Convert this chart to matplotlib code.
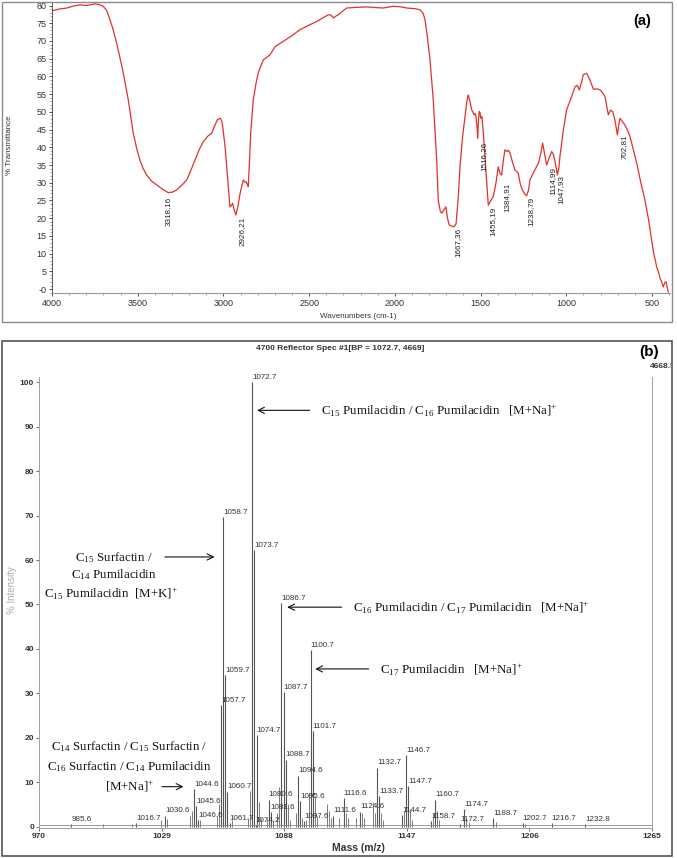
import matplotlib
matplotlib.use("Agg")
import matplotlib.pyplot as plt
from matplotlib.patches import Rectangle
from matplotlib.ticker import MultipleLocator
from matplotlib.transforms import Bbox, TransformedBbox

plt.rcParams['font.family'] = ['Liberation Sans', 'DejaVu Sans']
plt.rcParams['mathtext.fontset'] = 'stix'

# ---- (a) FTIR spectrum ----
wavenumber = [4000, 3960, 3914, 3880, 3837, 3800, 3770, 3749, 3720, 3701, 3680, 3662, 3645,
              3623, 3600, 3584, 3555, 3526, 3505, 3487, 3468, 3448, 3420, 3389, 3355, 3322,
              3295, 3273, 3245, 3214, 3190, 3166, 3140, 3117, 3090, 3068, 3049, 3035, 3020,
              3010, 3004, 2990, 2981, 2970, 2962, 2954, 2946, 2938, 2927, 2915, 2903, 2884,
              2876, 2868, 2860, 2855, 2848, 2841, 2826, 2810, 2797, 2787, 2767, 2728, 2699,
              2651, 2600, 2553, 2500, 2456, 2420, 2388, 2372, 2359, 2345, 2330, 2300, 2281,
              2220, 2164, 2067, 2009, 1960, 1931, 1880, 1853, 1835, 1824, 1810, 1795, 1776,
              1766, 1756, 1747, 1735, 1727, 1715, 1702, 1693, 1683, 1670, 1655, 1643, 1630,
              1620, 1605, 1591, 1580, 1572, 1562, 1552, 1538, 1530, 1527, 1521, 1517, 1512,
              1508, 1503, 1499, 1492, 1484, 1468, 1455, 1440, 1426, 1410, 1397, 1385, 1377,
              1368, 1358, 1345, 1337, 1328, 1315, 1299, 1280, 1270, 1260, 1245, 1231, 1220,
              1212, 1190, 1163, 1150, 1138, 1126, 1114, 1100, 1085, 1075, 1066, 1058, 1052,
              1044, 1037, 1017, 998, 975, 949, 936, 924, 910, 901, 881, 862, 842, 820, 803,
              790, 774, 762, 755, 742, 729, 716, 702, 695, 687, 672, 658, 640, 628, 610, 589,
              565, 541, 520, 502, 490, 480, 473, 460, 453, 445, 434, 426, 418, 410, 405]
transmittance = [78.5, 79.0, 79.3, 79.8, 80.2, 80.0, 80.3, 80.5, 80.2, 79.8, 78.5, 76.0, 73.5,
                 69.4, 64.5, 60.9, 53.4, 44.0, 39.5, 36.4, 34.0, 32.2, 30.5, 29.4, 28.2, 27.2,
                 27.4, 28.0, 29.2, 30.8, 33.5, 36.4, 39.5, 41.6, 43.2, 44.0, 46.3, 47.8, 48.2,
                 47.5, 45.8, 40.0, 34.5, 28.0, 23.2, 23.6, 24.2, 22.5, 20.9, 23.5, 27.0, 30.8,
                 30.2, 30.3, 29.5, 28.9, 36.0, 44.0, 53.4, 58.0, 60.9, 62.3, 64.7, 66.1, 68.4,
                 69.9, 71.5, 73.2, 74.5, 75.5, 76.5, 77.4, 77.3, 76.5, 77.0, 77.4, 78.6, 79.3,
                 79.5, 79.6, 79.3, 79.8, 79.6, 79.3, 79.1, 78.8, 77.8, 76.0, 71.0, 64.7, 53.4,
                 45.0, 36.4, 25.1, 22.0, 21.4, 22.3, 23.2, 20.0, 18.1, 17.8, 17.6, 18.4, 26.0,
                 34.5, 43.0, 48.7, 53.0, 54.8, 53.0, 50.6, 49.2, 49.5, 48.7, 46.0, 42.6, 48.0,
                 50.1, 49.8, 48.2, 48.7, 44.0, 32.7, 23.7, 25.0, 26.1, 30.0, 34.5, 32.5, 32.2,
                 36.0, 39.3, 38.8, 39.2, 38.3, 36.0, 33.6, 32.7, 30.0, 28.4, 27.0, 26.3, 28.0,
                 30.8, 33.0, 35.5, 38.0, 41.2, 38.0, 35.0, 37.0, 38.8, 38.0, 36.0, 34.0, 32.2,
                 34.0, 37.4, 44.9, 50.6, 53.5, 57.1, 57.5, 56.2, 58.5, 60.5, 60.9, 59.0, 56.4,
                 56.5, 56.2, 55.5, 54.3, 51.0, 49.2, 50.5, 50.1, 47.7, 43.5, 46.0, 48.2, 47.2,
                 46.3, 44.5, 43.0, 39.5, 35.5, 30.0, 25.1, 19.5, 13.8, 10.0, 8.0, 6.3, 4.5,
                 3.0, 2.2, 0.6, 1.8, 2.1, 0.2, -0.8]

ir_labels = ["3318,16", "2926,21", "1667,36", "1516,26", "1455,19",
             "1384,91", "1238,79", "1114,99", "1047,93", "702,81"]
ir_label_wn = [3322, 2893, 1630, 1480, 1426, 1348, 1208, 1076, 1031, 662]
ir_label_t = [26.0, 20.3, 17.2, 41.5, 23.2, 30.0, 26.0, 34.5, 32.2, 43.5]

# ---- (b) MALDI-TOF spectrum ----
peak_mass = [985.6, 1016.7, 1030.6, 1044.6, 1045.6, 1046.6, 1057.7, 1058.7, 1059.7, 1060.7,
             1061.7, 1072.7, 1073.7, 1074.2, 1074.7, 1080.6, 1081.6, 1086.7, 1087.7, 1088.7,
             1094.6, 1095.6, 1097.6, 1100.7, 1101.7, 1111.6, 1116.6, 1124.6, 1132.7, 1133.7,
             1144.7, 1146.7, 1147.7, 1158.7, 1160.7, 1172.7, 1174.7, 1188.7, 1202.7, 1216.7,
             1232.8]
peak_intensity = [0.6, 0.9, 2.5, 8.5, 4.6, 1.4, 27.4, 69.7, 34.2, 7.9,
                  0.9, 100.0, 62.2, 0.4, 20.7, 6.1, 3.2, 50.3, 30.3, 15.1,
                  11.5, 5.7, 1.2, 39.8, 21.6, 2.5, 6.5, 3.4, 13.3, 6.8,
                  2.7, 16.2, 9.1, 1.2, 6.1, 0.6, 4.0, 2.0, 0.8, 0.8,
                  0.6]
minor_mass = [1000.6, 1014.7, 1028.6, 1031.6, 1042.6, 1043.6, 1047.6, 1055.7, 1056.7, 1062.7,
              1070.7, 1071.7, 1075.7, 1076.7, 1079.6, 1082.6, 1084.7, 1085.7, 1089.7, 1090.7,
              1093.6, 1096.6, 1098.7, 1099.7, 1102.7, 1103.7, 1108.6, 1109.6, 1110.6, 1114.6,
              1117.6, 1118.6, 1122.6, 1125.6, 1126.6, 1130.7, 1131.7, 1134.7, 1135.7, 1145.7,
              1148.7, 1149.7, 1159.7, 1161.7, 1162.7, 1175.7, 1176.7, 1189.7, 1203.7]
minor_intensity = [0.5, 0.7, 1.5, 1.8, 2.5, 3.5, 1.5, 2.5, 5.0, 1.5,
                   2.0, 8.0, 5.5, 2.0, 2.0, 1.5, 3.0, 9.0, 5.0, 1.5,
                   3.0, 2.0, 1.5, 7.5, 7.0, 2.5, 5.0, 3.5, 2.0, 2.0,
                   3.0, 2.0, 2.0, 3.0, 2.0, 5.5, 3.0, 3.0, 1.5, 3.5,
                   4.0, 1.5, 3.0, 3.5, 1.5, 2.0, 1.0, 1.0, 0.6]
baseline_level = 0.3
max_counts = "4668.5"

W, H = 677, 858
fig = plt.figure(figsize=(W / 100, H / 100), dpi=100)


def fx(px):
    return px / W


def fy(py):
    return 1 - py / H


# panel frames
fig.patches.append(Rectangle((fx(2), fy(322)), fx(670), 320 / H, transform=fig.transFigure,
                             fill=False, ec="#8a8a8a", lw=1.0))
fig.patches.append(Rectangle((fx(2), fy(856)), fx(670), 515 / H, transform=fig.transFigure,
                             fill=False, ec="#555555", lw=1.2))

# ---------------- panel (a) ----------------
ax1 = fig.add_axes([fx(52), fy(293), fx(618), 291 / H])
ax1.plot(wavenumber, transmittance, color="#e3302c", lw=0.9)
ax1.set_xlim(4000, 395)
ax1.set_ylim(-1.1, 81)
ax1.set_xticks([4000, 3500, 3000, 2500, 2000, 1500, 1000, 500])
ax1.xaxis.set_minor_locator(MultipleLocator(100))
ax1.set_yticks(range(0, 81, 5))
ax1.set_yticklabels(["-0"] + [str(v) for v in range(5, 81, 5)])
ax1.yaxis.set_minor_locator(MultipleLocator(1))
ax1.tick_params(labelsize=6.5, colors="#333333", length=2.5, width=0.6, pad=1.5)
ax1.tick_params(which="minor", length=1.2, width=0.5, colors="#777777")
for s in ["top", "right"]:
    ax1.spines[s].set_visible(False)
ax1.spines["left"].set_color("#444444")
ax1.spines["bottom"].set_color("#999999")
ax1.spines["left"].set_linewidth(0.6)
ax1.spines["bottom"].set_linewidth(0.8)

for lab, wn, t in zip(ir_labels, ir_label_wn, ir_label_t):
    ax1.text(wn, t, lab, rotation=90, ha="center", va="top", fontsize=5.8, color="#222222")

ax1.text(0.955, 0.935, "(a)", transform=ax1.transAxes, fontsize=10.5, fontweight="bold",
         ha="center", va="center")
fig.text(fx(10), fy(145), "% Transmittance", rotation=90, ha="center", va="center",
         fontsize=5.8, color="#333333")
fig.text(fx(358), fy(316), "Wavenumbers (cm-1)", ha="center", va="center",
         fontsize=5.8, color="#333333")

# ---------------- panel (b) ----------------
ax2 = fig.add_axes([fx(39), fy(828), fx(613), 451 / H])
ax2.vlines(minor_mass, 0, minor_intensity, color="#666666", lw=0.6)
ax2.vlines(peak_mass, 0, peak_intensity, color="#555555", lw=0.8)
ax2.axhline(baseline_level, color="#888888", lw=0.6)
ax2.set_xlim(970, 1265)
ax2.set_ylim(-0.3, 101.2)
ax2.set_xticks([970, 1029, 1088, 1147, 1206, 1265])
ax2.set_yticks(range(0, 101, 10))
ax2.tick_params(labelsize=6, colors="#333333", length=2, width=0.5, pad=1.5)
for lbl in ax2.get_xticklabels() + ax2.get_yticklabels():
    lbl.set_fontweight("bold")
ax2.spines["top"].set_visible(False)
for s in ["left", "right", "bottom"]:
    ax2.spines[s].set_color("#a0a0a0")
    ax2.spines[s].set_linewidth(0.7)

for m, h in zip(peak_mass, peak_intensity):
    ax2.annotate(f"{m:.1f}", (m, h), xytext=(0, 0.8), textcoords="offset points",
                 ha="left", va="bottom", fontsize=5.8, color="#333333",
                 family=["Liberation Sans Narrow", "Liberation Sans"])

fig.text(fx(340), fy(348), "4700 Reflector Spec #1[BP = 1072.7, 4669]", ha="center",
         va="center", fontsize=6, fontweight="bold", color="#333333")
fig.text(fx(649), fy(352), "(b)", ha="center", va="center", fontsize=11, fontweight="bold")
t_max = fig.text(fx(650), fy(366), max_counts, ha="left", va="center", fontsize=6,
                 fontweight="bold", color="#333333")
t_max.set_clip_box(TransformedBbox(Bbox([[0, 0], [fx(671), 1]]), fig.transFigure))
t_max.set_clip_on(True)
fig.text(fx(12), fy(590), "% Intensity", rotation=90, ha="center", va="center",
         fontsize=7, color="#aaaaaa")
fig.text(fx(358), fy(848), "Mass (m/z)", ha="center", va="center", fontsize=7.5,
         fontweight="bold", color="#333333")

serif = dict(family=["Liberation Serif", "DejaVu Serif"], fontsize=9.3, color="#111111")
arrow = dict(arrowstyle="->", color="#111111", lw=0.8, mutation_scale=11)


def sub(n):
    return r"$_\mathregular{" + n + "}$"


plus = r"$^\mathregular{+}$"

# C15/C16 pumilacidin
ax2.annotate("", xy=(1073.6, 93.7), xytext=(1101.6, 93.7), arrowprops=arrow)
ax2.text(1105.9, 93.7, "C" + sub("15") + " Pumilacidin / C" + sub("16") + " Pumilacidin   [M+Na]" + plus,
         ha="left", va="center", **serif)
# C15 surfactin / C14 pumilacidin / C15 pumilacidin [M+K]+
ax2.annotate("", xy=(1055.8, 60.7), xytext=(1029.3, 60.7), arrowprops=arrow)
ax2.text(1006.2, 60.6, "C" + sub("15") + " Surfactin /", ha="center", va="center", **serif)
ax2.text(1006.2, 56.7, "C" + sub("14") + " Pumilacidin", ha="center", va="center", **serif)
ax2.text(1004.5, 52.6, "C" + sub("15") + " Pumilacidin  [M+K]" + plus, ha="center", va="center", **serif)
# C16/C17 pumilacidin
ax2.annotate("", xy=(1088.1, 49.4), xytext=(1117.0, 49.4), arrowprops=arrow)
ax2.text(1120.9, 49.4, "C" + sub("16") + " Pumilacidin / C" + sub("17") + " Pumilacidin   [M+Na]" + plus,
         ha="left", va="center", **serif)
# C17 pumilacidin
ax2.annotate("", xy=(1101.6, 35.5), xytext=(1130.0, 35.5), arrowprops=arrow)
ax2.text(1133.9, 35.5, "C" + sub("17") + " Pumilacidin   [M+Na]" + plus, ha="left", va="center", **serif)
# surfactins
ax2.text(1013.4, 18.0, "C" + sub("14") + " Surfactin / C" + sub("15") + " Surfactin /",
         ha="center", va="center", **serif)
ax2.text(1013.4, 13.5, "C" + sub("16") + " Surfactin / C" + sub("14") + " Pumilacidin",
         ha="center", va="center", **serif)
ax2.text(1013.4, 9.0, "[M+Na]" + plus, ha="center", va="center", **serif)
ax2.annotate("", xy=(1040.9, 9.0), xytext=(1027.8, 9.0), arrowprops=arrow)

fig.savefig("out.png", dpi=100)
